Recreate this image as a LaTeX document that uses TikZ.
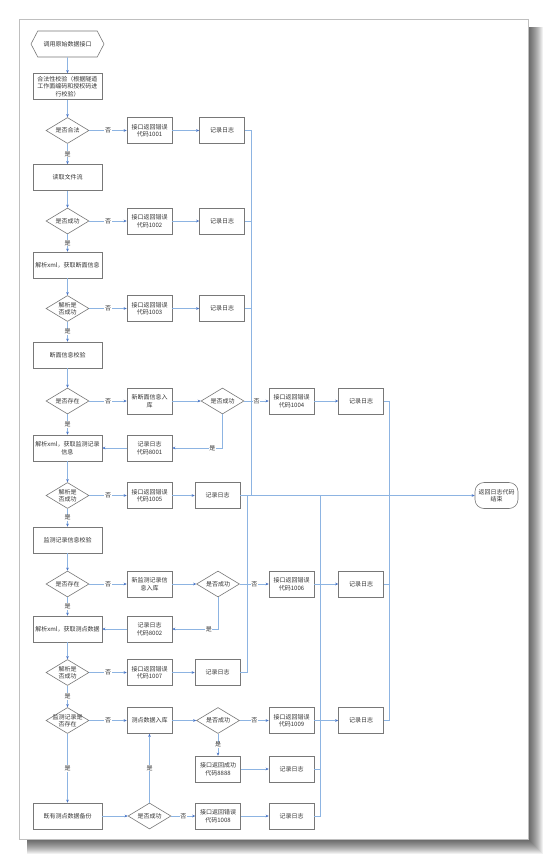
\documentclass[tikz,border=0pt]{standalone}
\usepackage{fontspec}
\setmainfont{Noto Sans CJK SC}
\usetikzlibrary{positioning,arrows.meta,shapes.geometric,shapes.symbols}

\definecolor{lnk}{RGB}{141,180,226}
\definecolor{tipc}{RGB}{70,114,196}
\definecolor{frm}{RGB}{120,120,120}

\begin{document}
\begin{tikzpicture}[x=1pt, y=-1pt,
  every node/.style={font=\fontsize{6}{7.5}\selectfont, text=black!80},
  box/.style={draw=frm, line width=0.6pt, fill=white, minimum width=69pt, minimum height=26pt, align=center, inner sep=1pt},
  sbox/.style={box, minimum width=45pt},
  dec/.style={draw=frm, line width=0.6pt, fill=white, diamond, aspect=1.65, minimum width=43pt, minimum height=26pt, inner sep=0pt, align=center},
  lab/.style={fill=white, inner sep=0.6pt},
  arr/.style={draw=lnk, line width=0.8pt, -{Stealth[length=3pt, width=2.6pt, color=tipc]}},
  bus/.style={draw=lnk, line width=0.8pt}]
  \useasboundingbox (0,0) rectangle (549,860);
  % page and its shadow
  \foreach \s in {1,...,15} \fill[black, opacity=0.06] (27,27) rectangle (528+\s,839+\s);
  \draw[black!25, fill=white] (19,19) rectangle (528,839);

  % main column and branches
  \node[box, signal, signal to=west and east, signal pointer angle=125, minimum width=73pt] (start) at (67.5,44) {调用原始数据接口};
  \node[box] (chk) at (67.5,86.5) {合法性校验（根据隧道\\工作面编码和授权码进\\行校验）};
  \node[dec] (d1) at (67.5,130.5) {是否合法};
  \node[sbox] (e1001) at (149.5,130.5) {接口返回错误\\代码1001};
  \node[sbox] (g1) at (222,130.5) {记录日志};
  \node[box] (read) at (67.5,177.5) {读取文件流};
  \node[dec] (d2) at (67.5,221) {是否成功};
  \node[sbox] (e1002) at (149.5,221) {接口返回错误\\代码1002};
  \node[sbox] (g2) at (222,221) {记录日志};
  \node[box] (xml1) at (67.5,265) {解析xml，获取断面信息};
  \node[dec] (d3) at (67.5,308.5) {解析是\\否成功};
  \node[sbox] (e1003) at (149.5,308.5) {接口返回错误\\代码1003};
  \node[sbox] (g3) at (222,308.5) {记录日志};
  \node[box] (sec) at (67.5,355) {断面信息校验};
  \node[dec] (d4) at (67.5,401) {是否存在};
  \node[sbox] (ins1) at (149.5,401) {新断面信息入\\库};
  \node[dec] (ok1) at (222.5,401) {是否成功};
  \node[sbox] (e1004) at (291.5,401) {接口返回错误\\代码1004};
  \node[sbox] (g4) at (361,401) {记录日志};
  \node[sbox] (r8001) at (149.5,448) {记录日志\\代码8001};
  \node[box] (xml2) at (67.5,448) {解析xml，获取监测记录\\信息};
  \node[dec] (d5) at (67.5,495.5) {解析是\\否成功};
  \node[sbox] (e1005) at (149.5,495.5) {接口返回错误\\代码1005};
  \node[sbox] (g5) at (217.5,495.5) {记录日志};
  \node[sbox, minimum width=43pt, rounded corners=9pt] (fin) at (496.5,495.5) {返回日志代码\\结束};
  \node[box] (mon) at (67.5,540) {监测记录信息校验};
  \node[dec] (d6) at (67.5,584) {是否存在};
  \node[sbox] (ins2) at (149.5,584) {新监测记录信\\息入库};
  \node[dec] (ok2) at (218,584) {是否成功};
  \node[sbox] (e1006) at (291.5,584) {接口返回错误\\代码1006};
  \node[sbox] (g6) at (361,584) {记录日志};
  \node[sbox] (r8002) at (149.5,629) {记录日志\\代码8002};
  \node[box] (xml3) at (67.5,629) {解析xml，获取测点数据};
  \node[dec] (d7) at (67.5,672.5) {解析是\\否成功};
  \node[sbox] (e1007) at (149.5,672.5) {接口返回错误\\代码1007};
  \node[sbox] (g7) at (217.5,672.5) {记录日志};
  \node[dec, inner xsep=-5pt] (d8) at (67.5,720.5) {监测记录是\\否存在};
  \node[sbox] (ins3) at (149.5,720.5) {测点数据入库};
  \node[dec] (ok3) at (218,720.5) {是否成功};
  \node[sbox] (e1009) at (291.5,720.5) {接口返回错误\\代码1009};
  \node[sbox] (g9) at (361,720.5) {记录日志};
  \node[sbox] (s8888) at (218,769) {接口返回成功\\代码8888};
  \node[sbox] (g8888) at (291.5,769) {记录日志};
  \node[box] (bak) at (67.5,816) {既有测点数据备份};
  \node[dec] (ok4) at (149.5,816) {是否成功};
  \node[sbox] (e1008) at (218,816) {接口返回错误\\代码1008};
  \node[sbox] (g8) at (291.5,816) {记录日志};

  % log lines to the end
  \coordinate (ba) at (251,495.5);
  \coordinate (bb) at (247,495.5);
  \coordinate (bc) at (320,495.5);
  \coordinate (bd) at (389,720.5);
  \draw[bus] (g1.east) -| (ba);
  \draw[bus] (g2.east) -- (g2.east -| ba);
  \draw[bus] (g3.east) -- (g3.east -| ba);
  \draw[bus] (g7.east) -| (bb);
  \draw[bus] (g8.east) -| (bc);
  \draw[bus] (g8888.east) -- (g8888.east -| bc);
  \draw[bus] (g4.east) -| (bd) -- (g9.east);
  \draw[bus] (g6.east) -- (g6.east -| bd);
  \draw[arr] (g5.east) -- (fin.west);

  % flow
  \draw[arr] (start) -- (chk);
  \draw[arr] (chk) -- (d1);
  \draw[arr] (d1) -- node[lab]{否} (e1001);
  \draw[arr] (e1001) -- (g1);
  \draw[arr] (d1) -- node[lab]{是} (read);
  \draw[arr] (read) -- (d2);
  \draw[arr] (d2) -- node[lab]{否} (e1002);
  \draw[arr] (e1002) -- (g2);
  \draw[arr] (d2) -- node[lab]{是} (xml1);
  \draw[arr] (xml1) -- (d3);
  \draw[arr] (d3) -- node[lab]{否} (e1003);
  \draw[arr] (e1003) -- (g3);
  \draw[arr] (d3) -- node[lab]{是} (sec);
  \draw[arr] (sec) -- (d4);
  \draw[arr] (d4) -- node[lab]{否} (ins1);
  \draw[arr] (ins1) -- (ok1);
  \draw[arr] (ok1) -- node[lab]{否} (e1004);
  \draw[arr] (e1004) -- (g4);
  \draw[arr] (ok1.south) |- node[lab, pos=0.6]{是} (r8001.east);
  \draw[arr] (r8001) -- (xml2);
  \draw[arr] (d4) -- node[lab]{是} (xml2);
  \draw[arr] (xml2) -- (d5);
  \draw[arr] (d5) -- node[lab]{否} (e1005);
  \draw[arr] (e1005) -- (g5);
  \draw[arr] (d5) -- node[lab]{是} (mon);
  \draw[arr] (mon) -- (d6);
  \draw[arr] (d6) -- node[lab]{否} (ins2);
  \draw[arr] (ins2) -- (ok2);
  \draw[arr] (ok2) -- node[lab]{否} (e1006);
  \draw[arr] (e1006) -- (g6);
  \draw[arr] (ok2.south) |- node[lab, pos=0.6]{是} (r8002.east);
  \draw[arr] (r8002) -- (xml3);
  \draw[arr] (d6) -- node[lab]{是} (xml3);
  \draw[arr] (xml3) -- (d7);
  \draw[arr] (d7) -- node[lab]{否} (e1007);
  \draw[arr] (e1007) -- (g7);
  \draw[arr] (d7) -- node[lab]{是} (d8);
  \draw[arr] (d8) -- node[lab]{否} (ins3);
  \draw[arr] (ins3) -- (ok3);
  \draw[arr] (ok3) -- node[lab]{否} (e1009);
  \draw[arr] (e1009) -- (g9);
  \draw[arr] (ok3) -- node[lab]{是} (s8888);
  \draw[arr] (s8888) -- (g8888);
  \draw[arr] (d8) -- node[lab]{是} (bak);
  \draw[arr] (bak) -- (ok4);
  \draw[arr] (ok4) -- node[lab]{是} (ins3);
  \draw[arr] (ok4) -- node[lab]{否} (e1008);
  \draw[arr] (e1008) -- (g8);
\end{tikzpicture}
\end{document}
